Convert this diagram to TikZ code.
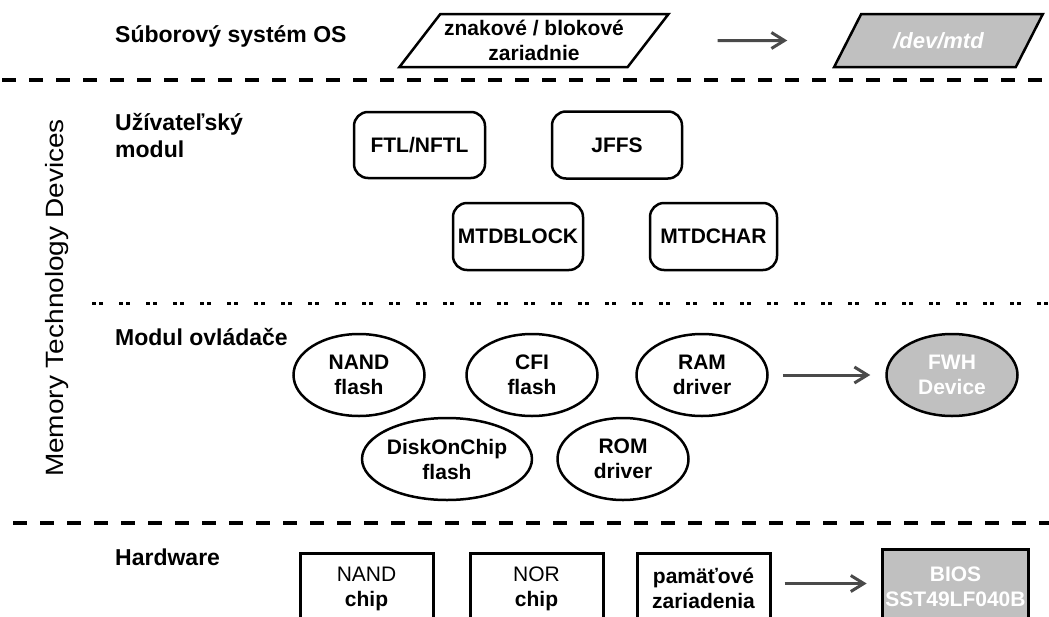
\documentclass[tikz,border=0pt]{standalone}
\usepackage{fontspec}
\setmainfont{Liberation Sans}
\usetikzlibrary{shapes.geometric,arrows.meta}
\definecolor{silverfill}{HTML}{C0C0C0}
\definecolor{arrowgrey}{HTML}{4A4A4A}
\begin{document}
\begin{tikzpicture}[x=1pt,y=-1pt,
 lbl/.style={font=\fontsize{23}{27}\selectfont\bfseries, align=left, inner sep=0pt},
 txt/.style={font=\fontsize{21}{25}\selectfont\bfseries, align=center},
 para/.style={trapezium, trapezium left angle=46, trapezium right angle=134, trapezium stretches=true, minimum height=53, draw, line width=2.5pt, inner sep=0pt, txt},
 rbox/.style={draw, rounded corners=14pt, line width=2.5pt, minimum width=130, minimum height=67, txt},
 ell/.style={ellipse, draw, line width=2.5pt, minimum width=131, minimum height=82, inner sep=0pt, txt},
 hbox/.style={draw, line width=3pt, minimum width=133, minimum height=70, anchor=north, txt},
 greyfill/.style={fill=silverfill, text=white},
 arr/.style={draw=arrowgrey, line width=3pt, -{Straight Barb[length=13pt,width=16pt]}},
 sepline/.style={line width=3.5pt, dash pattern=on 14pt off 13pt},
 dotline/.style={line width=3pt, dash pattern=on 4pt off 3pt on 4pt off 16pt},
]
\useasboundingbox (0,0) rectangle (1049,616);
\fill[white] (0,0) rectangle (1049,616);

% separators
\draw[sepline] (2,80) -- (1049,80);
\draw[dotline] (92,303) -- (1049,303);
\draw[sepline] (13,523) -- (1049,523);

% layer labels
\node[lbl, anchor=base west] (lfs) at (115,42) {Súborový systém OS};
\node[lbl, anchor=west] (lum) at (115,136) {Užívateľský\\modul};
\node[lbl, anchor=base west] (lmo) at (115,345) {Modul ovládače};
\node[lbl, anchor=base west] (lhw) at (115,565) {Hardware};
\node[rotate=90, font=\fontsize{25}{29}\selectfont, inner sep=0pt] (mtd) at (57,298) {\scalebox{1.12}[1]{Memory Technology Devices}};

% OS file system row
\node[para, minimum width=270] (p1) at (534,40.5) {znakové / blokové\\zariadnie};
\node[para, greyfill, minimum width=209, font=\fontsize{22}{26}\selectfont\bfseries\itshape] (p2) at (938.5,40.5) {/dev/mtd};
\draw[arr, shorten <=68pt, shorten >=59pt] (p1) -- (p2);

% user modules
\node[rbox, minimum width=131, minimum height=66] (ftl) at (419.5,145) {FTL/NFTL};
\node[rbox] (jffs) at (617,145) {JFFS};
\node[rbox] (mtdblock) at (518,236.5) {MTDBLOCK};
\node[rbox, minimum width=127] (mtdchar) at (713.5,236.5) {MTDCHAR};

% driver modules
\node[ell] (nandf) at (359,375) {NAND\\flash};
\node[ell] (cfi) at (532,375) {CFI\\flash};
\node[ell] (ram) at (702,375) {RAM\\driver};
\node[ell] (doc) at (447,459) {DiskOnChip\\flash};
\node[ell] (rom) at (623,459) {ROM\\driver};
\node[ell, greyfill] (fwh) at (952,375) {FWH\\Device};
\draw[arr, shorten <=14pt, shorten >=15pt] (ram) -- (fwh);

% hardware
\node[hbox] (nandc) at (366.5,552) {\mdseries NAND\\chip};
\node[hbox] (nor) at (536.5,552) {\mdseries NOR\\chip};
\node[hbox] (pam) at (703.5,552) {pamäťové\\zariadenia};
\node[hbox, greyfill, minimum width=139, minimum height=74] (bios) at (955.5,548) {BIOS\\SST49LF040B};
\draw[arr, shorten <=13pt, shorten >=14pt] ([yshift=5pt]pam.east) -- ([yshift=5pt]pam.east -| bios.west);
\end{tikzpicture}
\end{document}
